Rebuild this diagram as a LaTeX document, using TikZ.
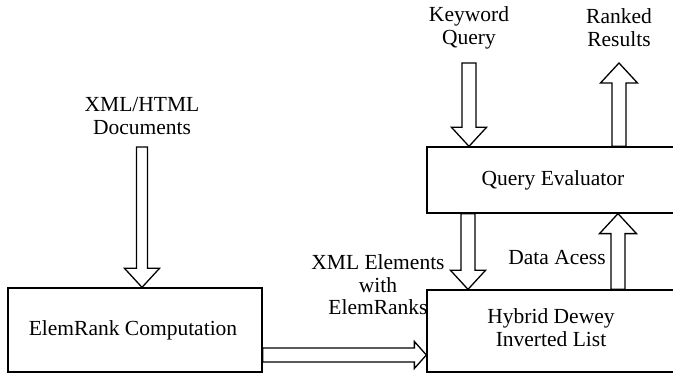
\documentclass[tikz,border=0pt]{standalone}
\usepackage{fontspec}
\setmainfont{Liberation Serif}
\usetikzlibrary{calc}
\tikzset{
  box/.style={draw, line width=1.3pt, inner sep=0pt},
  lbl/.style={align=center, font=\fontsize{21.5}{23}\selectfont, inner sep=0pt},
  arrowline/.style={draw, line width=1.3pt, line join=miter},
  blockarrow/.style n args={3}{to path={
    let \p1=(\tikztostart), \p2=(\tikztotarget),
        \n1={atan2(\y2-\y1,\x2-\x1)}, \n2={veclen(\x2-\x1,\y2-\y1)} in
    ($(\p1)+(\n1+90:#1)$) -- ($(\p1)+(\n1:\n2-#3)+(\n1+90:#1)$)
    -- ($(\p1)+(\n1:\n2-#3)+(\n1+90:#2)$) -- (\p2)
    -- ($(\p1)+(\n1:\n2-#3)+(\n1-90:#2)$) -- ($(\p1)+(\n1:\n2-#3)+(\n1-90:#1)$)
    -- ($(\p1)+(\n1-90:#1)$) -- cycle}}
}
\begin{document}
\begin{tikzpicture}[x=1pt,y=1pt]
\useasboundingbox (0,0) rectangle (673,374);
\clip (0,0) rectangle (673,374);
% boxes
\node[box, minimum width=254pt, minimum height=84pt] (er) at (135,44) {};
\node[box, minimum width=253pt, minimum height=66pt] (qe) at (553.5,194) {};
\node[box, minimum width=253pt, minimum height=82pt] (hd) at (553.5,43) {};
% texts
\node[lbl] (ert) at (133,44) {ElemRank Computation};
\node[lbl] (qet) at (553,194) {Query Evaluator};
\node[lbl] (hdt) at (551,46) {Hybrid Dewey\\Inverted List};
\node[lbl] (docs) at (142,257.5) {XML/HTML\\Documents};
\node[lbl] (kw) at (469,346) {Keyword\\Query};
\node[lbl] (rr) at (619,346) {Ranked\\Results};
\node[lbl] (da) at (557,116) {Data Acess};
\node[lbl, font=\fontsize{21.5}{22.5}\selectfont] (xe) at (378,89) {XML Elements\\with\\ElemRanks};
% arrow anchors
\coordinate (docsx) at (142,227);
\coordinate (kwx) at (469,311);
\coordinate (rrx) at (619,311);
\coordinate (dax) at (468,0);
\coordinate (upx) at (618,0);
\coordinate (xey) at (0,19);
% block arrows
\draw[arrowline] (docsx) to[blockarrow={5.5pt}{17.5pt}{19pt}] (docsx |- er.north);
\draw[arrowline] (kwx) to[blockarrow={7pt}{17.5pt}{19pt}] (kwx |- qe.north);
\draw[arrowline] (rrx |- qe.north) to[blockarrow={7pt}{18.5pt}{20pt}] (rrx);
\draw[arrowline] (dax |- qe.south) to[blockarrow={7pt}{17.5pt}{19pt}] (dax |- hd.north);
\draw[arrowline] (upx |- hd.north) to[blockarrow={7pt}{18.5pt}{20pt}] (upx |- qe.south);
\draw[arrowline] (er.east |- xey) to[blockarrow={7pt}{13.5pt}{12pt}] (hd.west |- xey);
\end{tikzpicture}
\end{document}
